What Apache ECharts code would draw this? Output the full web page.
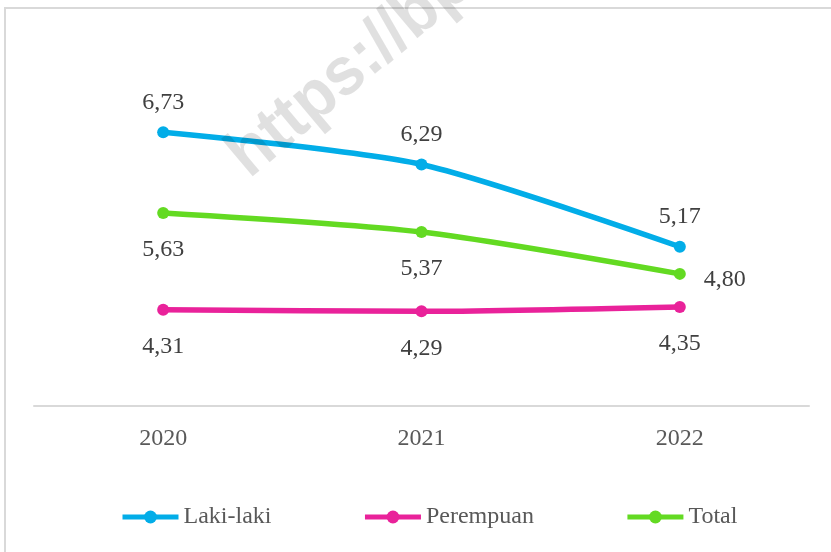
<!DOCTYPE html>
<html>
<head>
<meta charset="utf-8">
<script src="https://cdn.jsdelivr.net/npm/echarts@6/dist/echarts.min.js"></script>
<style>
  html, body { margin: 0; padding: 0; background: #fff; }
  #chart { width: 831px; height: 552px; }
</style>
</head>
<body>
<div id="chart"></div>
<script>
const years = ['2020', '2021', '2022'];
const lakiLaki = [6.73, 6.29, 5.17];
const perempuan = [4.31, 4.29, 4.35];
const total = [5.63, 5.37, 4.80];

const font = 'Liberation Serif';
const fmt = p => p.value.toFixed(2).replace('.', ',');

let chart = echarts.init(document.getElementById('chart'));

function lineSeries(name, data, color, pos) {
  return {
    name: name,
    type: 'line',
    data: data,
    smooth: 0.25,
    symbol: 'circle',
    symbolSize: 12,
    lineStyle: {width: 5.5, color: color},
    itemStyle: {color: color},
    label: {
      show: true,
      position: pos,
      distance: pos === 'top' ? 12 : 19,
      formatter: fmt,
      color: '#404040',
      fontFamily: font,
      fontSize: 24
    }
  };
}

let totalSeries = lineSeries('Total', total, '#63DA22', 'bottom');
// last point of Total has its label on the right
totalSeries.data = total.map((v, i) => i === 2 ? {
  value: v,
  label: {position: 'right', distance: 18, offset: [0, 6]}
} : v);

chart.setOption({
  animation: false,
  grid: {left: 34, right: 22, top: 39, bottom: 146},
  legend: {
    bottom: 18,
    left: 115,
    itemWidth: 56,
    itemHeight: 16,
    itemGap: 91,
    lineStyle: {width: 5},
    textStyle: {color: '#595959', fontFamily: font, fontSize: 24}
  },
  xAxis: {
    type: 'category',
    data: years,
    axisLine: {lineStyle: {color: '#D9D9D9', width: 2}},
    axisTick: {show: false},
    axisLabel: {color: '#595959', fontFamily: font, fontSize: 24, margin: 21}
  },
  yAxis: {
    type: 'value',
    min: 3,
    max: 8,
    show: false,
    splitLine: {show: false}
  },
  graphic: [
    {
      type: 'rect',
      shape: {x: 5, y: 8, width: 900, height: 900},
      style: {fill: 'none', stroke: '#D9D9D9', lineWidth: 2},
      silent: true
    },
    {
      type: 'text',
      x: 259,
      y: 191,
      rotation: 40 * Math.PI / 180,
      scaleX: 0.95,
      z: 100,
      style: {
        text: 'https://bps.go.id',
        fill: 'rgba(0,0,0,0.12)',
        font: 'bold 68px "Liberation Sans"',
        textAlign: 'left',
        textVerticalAlign: 'bottom'
      },
      silent: true
    }
  ],
  series: [
    lineSeries('Laki-laki', lakiLaki, '#02ADE8', 'top'),
    lineSeries('Perempuan', perempuan, '#E9229A', 'bottom'),
    totalSeries
  ]
});
</script>
</body>
</html>
